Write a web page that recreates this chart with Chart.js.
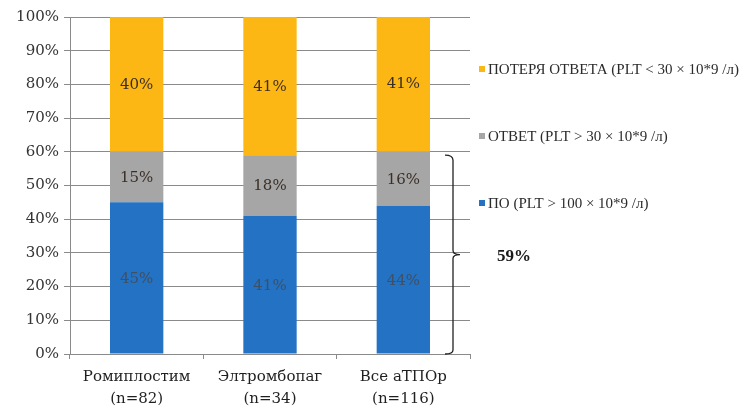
<!DOCTYPE html>
<html>
<head>
<meta charset="utf-8">
<script src="https://cdn.jsdelivr.net/npm/chart.js@4/dist/chart.umd.min.js"></script>
<style>
  html, body { margin: 0; padding: 0; background: #fff; }
  #wrap { width: 745px; height: 412px; position: relative; }
</style>
</head>
<body>
<div id="wrap"><canvas id="c" width="745" height="412"></canvas></div>
<script>
// Groups of patients (two-line axis labels)
const categories = [
  ['Ромиплостим', '(n=82)'],
  ['Элтромбопаг', '(n=34)'],
  ['Все аТПОр', '(n=116)']
];
// Share of patients per outcome, %
const fullResponse = [45, 41, 44];
const response = [15, 18, 16];
const lossOfResponse = [40, 41, 41];
const seriesNames = [
  'ПО (PLT > 100 × 10*9 /л)',
  'ОТВЕТ (PLT > 30 × 10*9 /л)',
  'ПОТЕРЯ ОТВЕТА (PLT < 30 × 10*9 /л)'
];
const yTicks = [0, 10, 20, 30, 40, 50, 60, 70, 80, 90, 100];
// Total responders bracket
const respondersTotal = 59;

const serif = "'DejaVu Serif', 'Liberation Serif', serif";
const legendSerif = "'Liberation Serif', serif";
const colors = ['#2372C4', '#A6A6A6', '#FDB714'];

// Percentage text centred in each stacked segment
const segmentLabels = {
  id: 'segmentLabels',
  afterDatasetsDraw(chart) {
    const ctx = chart.ctx;
    ctx.save();
    ctx.font = '15px ' + serif;
    ctx.textAlign = 'center';
    ctx.textBaseline = 'middle';
    chart.data.datasets.forEach((ds, i) => {
      const meta = chart.getDatasetMeta(i);
      meta.data.forEach((bar, j) => {
        const y = (bar.y + bar.base) / 2;
        ctx.fillStyle = i === 0 ? 'rgba(75,65,60,0.7)' : '#3a2f28';
        ctx.fillText(ds.data[j] + '%', bar.x, y + 1);
      });
    });
    ctx.restore();
  }
};

// Legend on the right, top entry = top segment
const sideLegend = {
  id: 'sideLegend',
  afterDraw(chart) {
    const ctx = chart.ctx;
    const x0 = chart.chartArea.right + 9;
    const rows = [69, 136, 203];
    ctx.save();
    ctx.font = '15px ' + legendSerif;
    ctx.textBaseline = 'middle';
    ctx.textAlign = 'left';
    const order = [2, 1, 0];
    order.forEach((di, k) => {
      const ds = chart.data.datasets[di];
      ctx.fillStyle = ds.backgroundColor;
      ctx.fillRect(x0, rows[k] - 3, 6, 6);
      ctx.fillStyle = '#2b2b2b';
      ctx.fillText(ds.label, x0 + 9, rows[k] + 1);
    });
    ctx.restore();
  }
};

// Curly bracket spanning the responders, with the total
const responderBracket = {
  id: 'responderBracket',
  afterDraw(chart) {
    const ctx = chart.ctx;
    const y = chart.scales.y;
    const top = y.getPixelForValue(respondersTotal);
    const bot = y.getPixelForValue(0);
    const mid = (top + bot) / 2;
    const x = chart.chartArea.right - 17;
    ctx.save();
    ctx.strokeStyle = '#222';
    ctx.lineWidth = 1.3;
    ctx.beginPath();
    ctx.moveTo(x - 8, top);
    ctx.quadraticCurveTo(x, top, x, top + 5);
    ctx.lineTo(x, mid - 4);
    ctx.quadraticCurveTo(x, mid, x + 7, mid);
    ctx.quadraticCurveTo(x, mid, x, mid + 4);
    ctx.lineTo(x, bot - 4);
    ctx.quadraticCurveTo(x, bot, x - 8, bot);
    ctx.stroke();
    ctx.fillStyle = '#1a1a1a';
    ctx.font = 'bold 17px ' + legendSerif;
    ctx.textAlign = 'left';
    ctx.textBaseline = 'middle';
    ctx.fillText(respondersTotal + '%', chart.chartArea.right + 27, mid + 2);
    ctx.restore();
  }
};

new Chart(document.getElementById('c'), {
  type: 'bar',
  data: {
    labels: categories,
    datasets: [
      { label: seriesNames[0], data: fullResponse, backgroundColor: colors[0] },
      { label: seriesNames[1], data: response, backgroundColor: colors[1] },
      { label: seriesNames[2], data: lossOfResponse, backgroundColor: colors[2] }
    ]
  },
  options: {
    responsive: false,
    animation: false,
    devicePixelRatio: 1,
    layout: { padding: { top: 17, right: 275, left: 0, bottom: 0 } },
    datasets: { bar: { categoryPercentage: 1, barPercentage: 0.4 } },
    plugins: { legend: { display: false }, tooltip: { enabled: false } },
    scales: {
      x: {
        stacked: true,
        grid: { drawOnChartArea: false, drawTicks: true, tickLength: 5, color: '#8a8a8a', offset: true },
        border: { color: '#8a8a8a', width: 1 },
        ticks: { color: '#1f1f1f', font: { family: serif, size: 15, lineHeight: 1.45 }, padding: 7, maxRotation: 0 },
        afterFit(s) { s.height = 58; }
      },
      y: {
        stacked: true,
        min: 0, max: 100,
        afterBuildTicks(s) { s.ticks = yTicks.map(v => ({ value: v })); },
        grid: { color: '#8a8a8a', lineWidth: 1, tickLength: 6 },
        border: { color: '#8a8a8a', width: 1 },
        ticks: { color: '#333', font: { family: serif, size: 15 }, padding: 5, callback: v => v + '%' },
        afterFit(s) { s.width = 70; }
      }
    }
  },
  plugins: [segmentLabels, sideLegend, responderBracket]
});
</script>
</body>
</html>
